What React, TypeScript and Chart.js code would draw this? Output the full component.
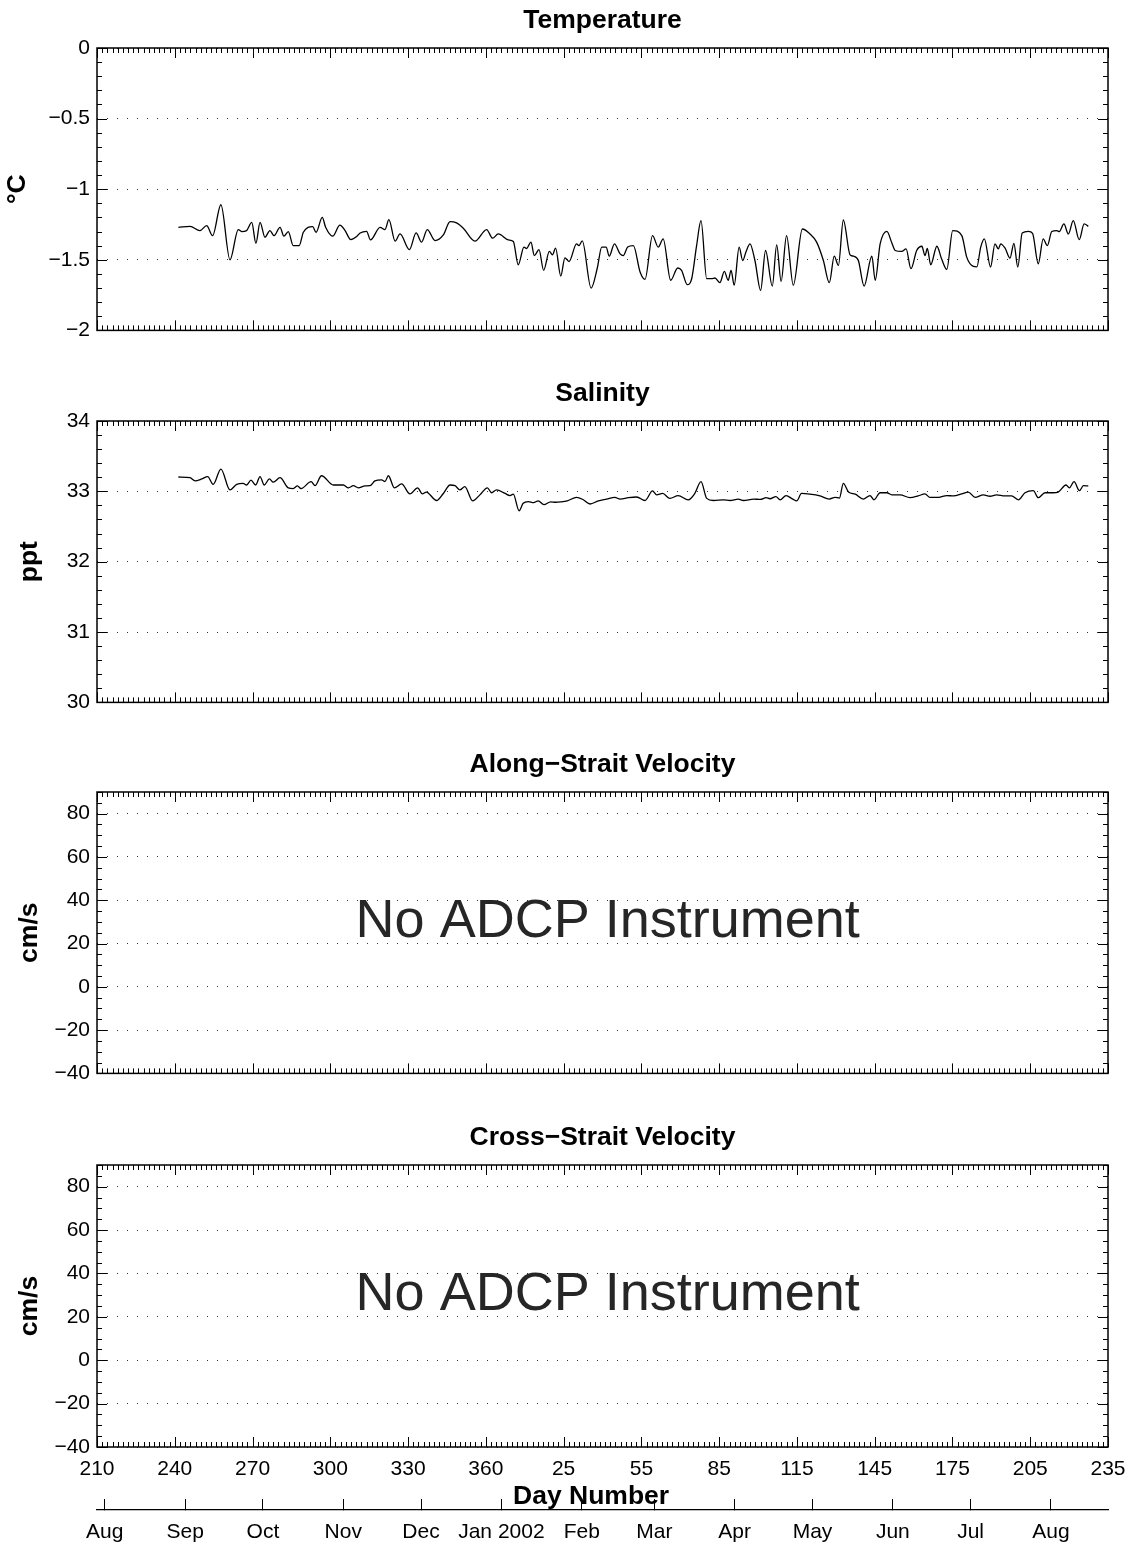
import React, { useEffect, useRef } from 'react';
import { Chart, registerables } from 'chart.js';

Chart.register(...registerables);

const FONT = "'Liberation Sans', Arial, Helvetica, sans-serif";
const BOLD_SIZE = 26.5;

// ---------- axis ticks / labels ----------
const dayTicks = [210, 240, 270, 300, 330, 360, 390, 420, 450, 480, 510, 540, 570, 600];
const dayTickLabels = ['210', '240', '270', '300', '330', '360', '25', '55', '85', '115', '145', '175', '205', '235'];

// month starts on the continuous day axis (2001 day-of-year, then 365 + 2002 day-of-year)
const monthTicks = [213, 244, 274, 305, 335, 366, 397, 425, 456, 486, 517, 547, 578];
const monthLabels = ['Aug', 'Sep', 'Oct', 'Nov', 'Dec', 'Jan 2002', 'Feb', 'Mar', 'Apr', 'May', 'Jun', 'Jul', 'Aug'];

const tempTicks = [-2, -1.5, -1, -0.5, 0];
const tempTickLabels = ['\u22122', '\u22121.5', '\u22121', '\u22120.5', '0'];
const salTicks = [30, 31, 32, 33, 34];
const salTickLabels = ['30', '31', '32', '33', '34'];
const velTicks = [-40, -20, 0, 20, 40, 60, 80];
const velTickLabels = ['\u221240', '\u221220', '0', '20', '40', '60', '80'];

// ---------- series ----------
const tempDays = [
  241.4, 245.9, 249.7, 252.3, 254.6, 257.8, 261.3, 264.5, 265.8, 267.7, 269.7, 271.3, 272.9, 274.8, 276.7,
  278.3, 280.6, 282.1, 283.8, 285.7, 288.0, 289.6, 293.2, 294.5, 296.9, 298.2, 300.9, 303.7, 305.7, 307.9,
  310.1, 311.5, 314.0, 315.5, 319.2, 321.1, 322.6, 325.0, 326.9, 330.5, 333.1, 335.2, 337.4, 340.4, 343.6,
  346.2, 348.7, 351.3, 355.8, 360.3, 362.6, 364.8, 368.7, 370.6, 372.5, 374.7, 375.7, 377.4, 378.7, 380.5,
  382.3, 384.5, 385.7, 386.9, 388.9, 390.5, 392.1, 395.0, 395.9, 397.2, 400.6, 403.0, 404.7, 406.4, 407.6,
  409.6, 411.8, 413.0, 414.7, 416.9, 419.5, 421.4, 424.3, 426.5, 428.4, 431.3, 434.0, 435.5, 437.7, 439.4,
  441.3, 443.0, 445.2, 447.1, 448.4, 450.3, 452.0, 453.5, 454.6, 455.8, 457.7, 459.1, 460.4, 461.9, 463.8,
  466.0, 467.9, 470.5, 472.2, 473.9, 476.0, 478.6, 482.1, 485.0, 487.6, 490.2, 492.5, 494.4, 496.0, 497.9,
  500.5, 501.8, 503.7, 505.9, 508.9, 510.2, 512.1, 514.7, 516.6, 517.9, 520.4, 522.1, 524.0, 526.2, 528.2,
  529.4, 530.3, 531.6, 534.0, 535.8, 537.8, 540.1, 543.6, 545.5, 548.1, 549.4, 550.9, 552.3, 554.7, 556.4,
  557.7, 558.6, 560.3, 562.2, 563.7, 565.2, 566.9, 569.3, 570.9, 573.1, 575.0, 576.6, 578.3, 580.2, 581.2,
  583.0, 584.7, 586.6, 588.9, 590.8, 592.4,
];
const tempValues = [
  -1.270, -1.263, -1.293, -1.258, -1.329, -1.110, -1.500, -1.286, -1.300, -1.293, -1.235, -1.383, -1.235, -1.340, -1.293,
  -1.329, -1.270, -1.333, -1.300, -1.400, -1.400, -1.305, -1.265, -1.305, -1.200, -1.270, -1.333, -1.254, -1.293, -1.357,
  -1.336, -1.310, -1.298, -1.359, -1.270, -1.286, -1.216, -1.368, -1.317, -1.428, -1.310, -1.375, -1.286, -1.364, -1.324,
  -1.230, -1.239, -1.277, -1.368, -1.286, -1.347, -1.317, -1.359, -1.370, -1.535, -1.410, -1.420, -1.375, -1.470, -1.428,
  -1.575, -1.441, -1.465, -1.418, -1.615, -1.486, -1.512, -1.387, -1.400, -1.366, -1.700, -1.558, -1.410, -1.410, -1.474,
  -1.387, -1.458, -1.470, -1.410, -1.400, -1.587, -1.639, -1.329, -1.410, -1.352, -1.645, -1.558, -1.575, -1.676, -1.634,
  -1.400, -1.223, -1.634, -1.634, -1.629, -1.662, -1.582, -1.645, -1.575, -1.680, -1.410, -1.505, -1.441, -1.387, -1.505,
  -1.716, -1.434, -1.686, -1.394, -1.653, -1.329, -1.680, -1.282, -1.317, -1.375, -1.505, -1.662, -1.474, -1.540, -1.218,
  -1.465, -1.474, -1.505, -1.686, -1.474, -1.645, -1.387, -1.298, -1.380, -1.434, -1.441, -1.423, -1.563, -1.434, -1.404,
  -1.470, -1.420, -1.535, -1.404, -1.493, -1.568, -1.293, -1.329, -1.481, -1.547, -1.550, -1.410, -1.352, -1.551, -1.387,
  -1.423, -1.387, -1.418, -1.488, -1.383, -1.551, -1.310, -1.298, -1.312, -1.528, -1.352, -1.400, -1.300, -1.293, -1.300,
  -1.246, -1.317, -1.223, -1.357, -1.246, -1.263,
];

const salDays = [
  241.4, 245.9, 247.8, 250.4, 252.7, 254.8, 257.8, 261.3, 263.9, 266.4, 267.7, 269.4, 271.2, 272.9, 274.5,
  276.5, 278.0, 280.6, 283.8, 285.7, 287.3, 288.7, 292.6, 294.1, 296.6, 301.2, 305.0, 307.0, 308.9, 310.8,
  313.4, 315.3, 317.2, 319.8, 321.1, 322.4, 324.7, 327.5, 330.7, 333.7, 335.5, 337.0, 341.0, 343.6, 346.2,
  348.1, 350.0, 351.9, 354.9, 357.7, 360.6, 362.2, 364.1, 367.4, 369.3, 370.6, 372.8, 374.4, 376.4, 378.4,
  380.2, 382.4, 385.0, 386.9, 388.9, 391.4, 395.0, 397.6, 400.2, 403.4, 406.6, 409.8, 411.8, 415.0, 418.2,
  421.4, 424.3, 425.9, 428.2, 431.0, 434.2, 438.1, 440.6, 443.0, 445.2, 447.8, 451.7, 454.2, 457.4, 459.4,
  463.3, 465.9, 468.1, 469.6, 471.9, 473.5, 475.8, 478.4, 479.9, 481.8, 485.0, 488.9, 492.5, 494.7, 496.4,
  497.9, 499.9, 502.5, 505.6, 508.2, 509.7, 512.1, 514.7, 516.6, 519.8, 523.6, 526.8, 529.4, 531.3, 534.6,
  537.8, 540.4, 543.6, 546.1, 548.7, 551.9, 554.5, 557.0, 560.2, 562.8, 565.4, 568.0, 571.2, 573.1, 575.7,
  578.9, 580.8, 583.8, 585.1, 586.9, 589.0, 590.5, 592.4,
];
const salValues = [
  33.204, 33.194, 33.150, 33.176, 33.210, 33.100, 33.317, 33.020, 33.100, 33.114, 33.090, 33.160, 33.090, 33.210, 33.090,
  33.176, 33.130, 33.194, 33.050, 33.040, 33.077, 33.040, 33.138, 33.081, 33.222, 33.090, 33.090, 33.050, 33.080, 33.050,
  33.077, 33.080, 33.148, 33.162, 33.140, 33.222, 33.050, 33.105, 32.964, 33.050, 32.964, 32.990, 32.870, 32.970, 33.090,
  33.080, 33.020, 33.067, 32.865, 32.950, 33.050, 32.980, 33.020, 32.970, 32.940, 32.960, 32.724, 32.830, 32.855, 32.840,
  32.865, 32.810, 32.850, 32.845, 32.850, 32.865, 32.915, 32.880, 32.820, 32.865, 32.890, 32.915, 32.890, 32.910, 32.920,
  32.870, 33.006, 32.950, 32.970, 32.900, 32.940, 32.880, 32.970, 33.138, 32.900, 32.870, 32.880, 32.870, 32.890, 32.870,
  32.890, 32.885, 32.910, 32.895, 32.926, 32.880, 32.940, 32.890, 32.865, 32.970, 32.960, 32.935, 32.890, 32.915, 32.905,
  33.114, 32.990, 32.960, 32.890, 32.940, 32.880, 32.980, 32.980, 32.950, 32.950, 32.910, 32.935, 32.964, 32.915, 32.915,
  32.940, 32.935, 32.964, 32.990, 32.915, 32.950, 32.930, 32.950, 32.935, 32.935, 32.880, 32.980, 33.010, 32.910, 32.980,
  32.980, 32.990, 33.090, 33.050, 33.138, 33.010, 33.080, 33.077,
];

const noteText = 'No ADCP Instrument';
const noteDay = 407;
const noteValue = 30;

const xLabelText = 'Day Number';
const xLabelDay = 400.6;

// ---------- frame plugin: box, inward ticks, annotation ----------
const framePlugin = {
  id: 'frame',
  afterDraw(chart: any, _args: any, opts: any) {
    if (!opts || !opts.enabled) return;
    const { ctx, chartArea } = chart;
    const { left, right, top, bottom } = chartArea;
    const xs = chart.scales.x;
    const ys = chart.scales.y;
    ctx.save();
    ctx.strokeStyle = '#000';
    ctx.lineWidth = 1;
    ctx.beginPath();
    const nx = Math.round((xs.max - xs.min) / 2);
    for (let i = 0; i <= nx; i++) {
      const v = xs.min + i * 2;
      const px = Math.round(xs.getPixelForValue(v)) + 0.5;
      const major = dayTicks.some((t) => Math.abs(t - v) < 1e-6);
      const len = major ? 10 : 5;
      ctx.moveTo(px, bottom);
      ctx.lineTo(px, bottom - len);
      ctx.moveTo(px, top);
      ctx.lineTo(px, top + len);
    }
    const ny = Math.round((ys.max - ys.min) / opts.yMinor);
    for (let i = 0; i <= ny; i++) {
      const v = ys.min + i * opts.yMinor;
      const py = Math.round(ys.getPixelForValue(v)) + 0.5;
      const major = opts.yMajor.some((t: number) => Math.abs(t - v) < 1e-6);
      const len = major ? 10 : 5;
      ctx.moveTo(left, py);
      ctx.lineTo(left + len, py);
      ctx.moveTo(right, py);
      ctx.lineTo(right - len, py);
    }
    ctx.stroke();
    ctx.lineWidth = 1.5;
    ctx.strokeRect(left, top, right - left, bottom - top);
    if (opts.note) {
      ctx.font = `54px ${FONT}`;
      ctx.fillStyle = '#262626';
      ctx.textAlign = 'center';
      ctx.textBaseline = 'middle';
      ctx.fillText(opts.note, xs.getPixelForValue(noteDay), ys.getPixelForValue(noteValue));
    }
    if (opts.xLabel) {
      ctx.font = `bold ${BOLD_SIZE}px ${FONT}`;
      ctx.fillStyle = '#000';
      ctx.textAlign = 'center';
      ctx.textBaseline = 'middle';
      ctx.fillText(opts.xLabel, xs.getPixelForValue(xLabelDay), bottom + 49.5);
    }
    ctx.restore();
  },
};

type PanelSpec = {
  top: number;
  height: number;
  padBottom: number;
  title: string;
  yMin: number;
  yMax: number;
  yTicks: number[];
  yTickLabels: string[];
  yMinor: number;
  yTitle: string;
  yTitlePad: number;
  showX: boolean;
  days?: number[];
  values?: number[];
  note?: string;
};

function panelConfig(p: PanelSpec): any {
  const datasets = p.days
    ? [
        {
          data: p.days.map((d, i) => ({ x: d, y: (p.values as number[])[i] })),
          borderColor: '#000',
          borderWidth: 1.3,
          pointRadius: 0,
          fill: false,
          cubicInterpolationMode: 'monotone',
        },
      ]
    : [];
  const xScale: any = {
    type: 'linear',
    min: 210,
    max: 600,
    display: p.showX,
    afterBuildTicks: (s: any) => {
      s.ticks = dayTicks.map((v) => ({ value: v }));
    },
    grid: { display: false, drawTicks: false },
    border: { display: false },
    ticks: {
      autoSkip: false,
      maxRotation: 0,
      minRotation: 0,
      padding: 9.8,
      color: '#000',
      font: { family: FONT, size: 21 },
      callback: (_v: any, i: number) => dayTickLabels[i],
    },
    title: { display: false },
  };
  if (p.showX) {
    xScale.afterFit = (s: any) => {
      s.height = 59;
      s.paddingLeft = 0;
      s.paddingRight = 0;
    };
  }
  return {
    type: 'line',
    data: { datasets },
    options: {
      animation: false,
      responsive: false,
      maintainAspectRatio: false,
      events: [],
      layout: { padding: { left: 0, right: 23, top: 0, bottom: p.padBottom } },
      plugins: {
        legend: { display: false },
        tooltip: { enabled: false },
        title: {
          display: true,
          text: p.title,
          fullSize: false,
          color: '#000',
          font: { family: FONT, size: BOLD_SIZE, weight: 'bold', lineHeight: 1.2 },
          padding: { top: 5.1, bottom: 11.1 },
        },
        frame: {
          enabled: true,
          yMinor: p.yMinor,
          yMajor: p.yTicks,
          note: p.note,
          xLabel: p.showX ? xLabelText : undefined,
        },
      },
      scales: {
        x: xScale,
        y: {
          type: 'linear',
          position: 'left',
          min: p.yMin,
          max: p.yMax,
          afterBuildTicks: (s: any) => {
            s.ticks = p.yTicks.map((v) => ({ value: v }));
          },
          afterFit: (s: any) => {
            s.width = 97;
          },
          grid: { display: true, drawOnChartArea: true, drawTicks: false, color: '#333', lineWidth: 1 },
          border: { display: false, dash: [1, 9] },
          ticks: {
            padding: 7,
            color: '#000',
            font: { family: FONT, size: 21 },
            callback: (_v: any, i: number) => p.yTickLabels[i],
          },
          title: {
            display: true,
            text: p.yTitle,
            color: '#000',
            font: { family: FONT, size: BOLD_SIZE, weight: 'bold', lineHeight: 1.2 },
            padding: { top: p.yTitlePad, bottom: 0 },
          },
        },
      },
    },
    plugins: [framePlugin],
  };
}

function monthConfig(): any {
  return {
    type: 'line',
    data: { datasets: [] },
    options: {
      animation: false,
      responsive: false,
      maintainAspectRatio: false,
      events: [],
      layout: { padding: { left: 97, right: 23, top: 0, bottom: 0 } },
      plugins: { legend: { display: false }, tooltip: { enabled: false }, title: { display: false } },
      scales: {
        x: {
          type: 'linear',
          position: 'bottom',
          min: 210,
          max: 600,
          afterBuildTicks: (s: any) => {
            s.ticks = monthTicks.map((v) => ({ value: v }));
          },
          afterFit: (s: any) => {
            s.height = 33;
            s.paddingLeft = 0;
            s.paddingRight = 0;
          },
          grid: { display: true, drawOnChartArea: false, drawTicks: true, tickLength: -11, tickColor: '#000', tickWidth: 1 },
          border: { display: true, color: '#000', width: 1.3 },
          ticks: {
            autoSkip: false,
            maxRotation: 0,
            minRotation: 0,
            padding: 20.4,
            color: '#000',
            font: { family: FONT, size: 21 },
            callback: (_v: any, i: number) => monthLabels[i],
          },
        },
        y: { display: false, min: 0, max: 1 },
      },
    },
  };
}

function ChartCanvas({ top, height, config }: { top: number; height: number; config: () => any }) {
  const ref = useRef<HTMLCanvasElement>(null);
  useEffect(() => {
    if (!ref.current) return;
    const chart = new Chart(ref.current, config());
    return () => chart.destroy();
  }, []);
  return (
    <canvas
      ref={ref}
      width={1131}
      height={height}
      style={{ position: 'absolute', left: 0, top, width: 1131, height }}
    />
  );
}

const panels: PanelSpec[] = [
  {
    top: 0, height: 350, padBottom: 18, title: 'Temperature',
    yMin: -2, yMax: 0, yTicks: tempTicks, yTickLabels: tempTickLabels, yMinor: 0.1,
    yTitle: '\u00B0C', yTitlePad: 2.1, showX: false, days: tempDays, values: tempValues,
  },
  {
    top: 373, height: 349, padBottom: 18, title: 'Salinity',
    yMin: 30, yMax: 34, yTicks: salTicks, yTickLabels: salTickLabels, yMinor: 0.2,
    yTitle: 'ppt', yTitlePad: 14.1, showX: false, days: salDays, values: salValues,
  },
  {
    top: 744, height: 349, padBottom: 18, title: 'Along\u2212Strait Velocity',
    yMin: -40, yMax: 90, yTicks: velTicks, yTickLabels: velTickLabels, yMinor: 5,
    yTitle: 'cm/s', yTitlePad: 14.1, showX: false, note: noteText,
  },
  {
    top: 1117, height: 400, padBottom: 11, title: 'Cross\u2212Strait Velocity',
    yMin: -40, yMax: 90, yTicks: velTicks, yTickLabels: velTickLabels, yMinor: 5,
    yTitle: 'cm/s', yTitlePad: 14.1, showX: true, note: noteText,
  },
];

export default function App() {
  return (
    <div style={{ position: 'absolute', left: 0, top: 0, width: 1131, height: 1543, background: '#fff' }}>
      {panels.map((p, i) => (
        <ChartCanvas key={i} top={p.top} height={p.height} config={() => panelConfig(p)} />
      ))}
      <ChartCanvas top={1485} height={58} config={monthConfig} />
    </div>
  );
}
